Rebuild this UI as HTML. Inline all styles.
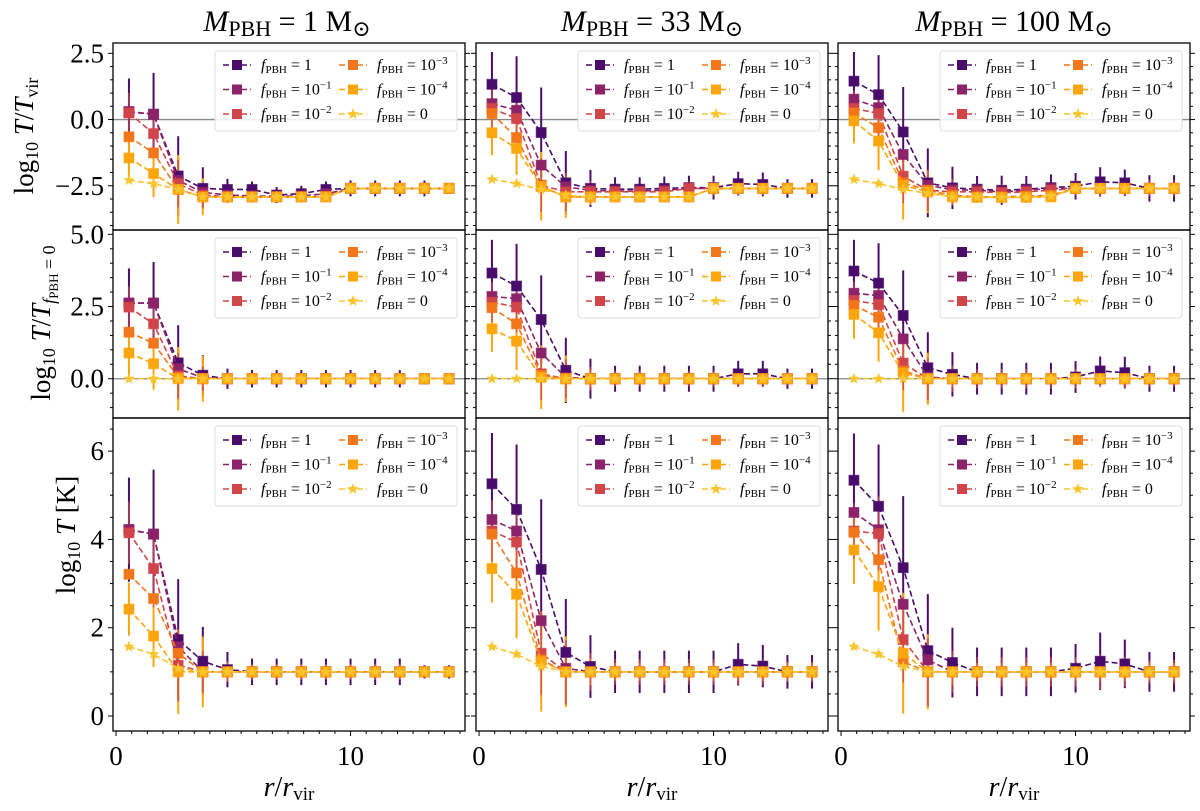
<!DOCTYPE html>
<html><head><meta charset="utf-8"><style>
html,body{margin:0;padding:0;background:#fff;}
svg{display:block;font-family:"Liberation Serif","DejaVu Serif",serif;}
</style></head><body>
<svg id="fig" width="1200" height="811" viewBox="0 0 1200 811" xmlns="http://www.w3.org/2000/svg"></svg>
<script>
// ---- data ----
const radii = [0.55,1.6,2.65,3.7,4.75,5.8,6.85,7.9,8.95,10.0,11.05,12.1,13.15,14.2];
const seriesLabels = ["1","10^-1","10^-2","10^-3","10^-4","0"];
const massLabels = ["1","33","100"];
const rowTicks0 = [2.5,0.0,-2.5];
const rowTicks1 = [5.0,2.5,0.0];
const rowTicks2 = [6,4,2,0];
const xTicks = [0,10];

// Row 1: log10 T/Tvir
const vir_m1_f1 = [0.29,0.2,-2.13,-2.6,-2.64,-2.64,-2.85,-2.8,-2.64,-2.6,-2.6,-2.6,-2.6,-2.6];
const vir_m1_f2 = [0.3,0.2,-2.3,-2.75,-2.85,-2.88,-2.9,-2.88,-2.8,-2.6,-2.6,-2.6,-2.6,-2.6];
const vir_m1_f3 = [0.25,-0.53,-2.42,-2.85,-2.92,-2.92,-2.92,-2.92,-2.9,-2.6,-2.6,-2.6,-2.6,-2.6];
const vir_m1_f4 = [-0.65,-1.26,-2.64,-2.92,-2.92,-2.92,-2.92,-2.92,-2.92,-2.6,-2.6,-2.6,-2.6,-2.6];
const vir_m1_f5 = [-1.45,-2.04,-2.64,-2.92,-2.92,-2.92,-2.92,-2.92,-2.92,-2.6,-2.6,-2.6,-2.6,-2.6];
const vir_m1_f0 = [-2.29,-2.42,-2.64,-2.92,-2.92,-2.92,-2.92,-2.92,-2.92,-2.6,-2.6,-2.6,-2.6,-2.6];
const vir_m1_err = [1.26,1.56,1.5,0.8,0.4,0.3,0.3,0.3,0.3,0.3,0.3,0.3,0.3,0.2];
const vir_m1_err5 = [0.7,0.9,1.3,0.7,0.2,0.15,0.15,0.15,0.15,0.15,0.15,0.15,0.1,0.1];

const vir_m33_f1 = [1.33,0.83,-0.49,-2.39,-2.6,-2.63,-2.63,-2.6,-2.57,-2.57,-2.42,-2.45,-2.6,-2.6];
const vir_m33_f2 = [0.6,0.35,-1.72,-2.54,-2.67,-2.7,-2.7,-2.67,-2.6,-2.6,-2.6,-2.6,-2.6,-2.6];
const vir_m33_f3 = [0.42,0.04,-2.48,-2.73,-2.73,-2.73,-2.73,-2.73,-2.6,-2.6,-2.6,-2.6,-2.6,-2.6];
const vir_m33_f4 = [0.23,-0.68,-2.52,-2.92,-2.92,-2.92,-2.92,-2.92,-2.92,-2.6,-2.6,-2.6,-2.6,-2.6];
const vir_m33_f5 = [-0.5,-1.09,-2.52,-2.92,-2.92,-2.92,-2.92,-2.92,-2.92,-2.6,-2.6,-2.6,-2.6,-2.6];
const vir_m33_f0 = [-2.26,-2.42,-2.64,-2.86,-2.92,-2.92,-2.92,-2.92,-2.92,-2.6,-2.6,-2.6,-2.6,-2.6];
const vir_m33_err = [1.22,1.56,1.7,1.2,0.7,0.45,0.45,0.45,0.45,0.45,0.45,0.45,0.35,0.35];
const vir_m33_err5 = [0.85,1.0,1.3,0.8,0.3,0.2,0.2,0.2,0.2,0.2,0.2,0.2,0.2,0.2];

const vir_m100_f1 = [1.45,0.94,-0.47,-2.39,-2.58,-2.63,-2.67,-2.63,-2.57,-2.52,-2.35,-2.39,-2.6,-2.6];
const vir_m100_f2 = [0.77,0.45,-1.32,-2.48,-2.65,-2.67,-2.73,-2.67,-2.6,-2.6,-2.6,-2.6,-2.6,-2.6];
const vir_m100_f3 = [0.42,0.23,-2.14,-2.67,-2.73,-2.73,-2.76,-2.73,-2.67,-2.6,-2.6,-2.6,-2.6,-2.6];
const vir_m100_f4 = [0.25,-0.31,-2.39,-2.67,-2.86,-2.92,-2.92,-2.89,-2.86,-2.6,-2.6,-2.6,-2.6,-2.6];
const vir_m100_f5 = [-0.05,-0.81,-2.48,-2.73,-2.92,-2.94,-2.94,-2.94,-2.92,-2.6,-2.6,-2.6,-2.6,-2.6];
const vir_m100_f0 = [-2.26,-2.42,-2.64,-2.79,-2.92,-2.92,-2.94,-2.94,-2.89,-2.6,-2.6,-2.6,-2.6,-2.6];
const vir_m100_err = [1.1,1.49,1.7,1.3,0.8,0.5,0.55,0.5,0.5,0.5,0.55,0.5,0.5,0.5];
const vir_m100_err5 = [0.85,1.1,1.3,0.8,0.3,0.2,0.2,0.2,0.2,0.2,0.2,0.2,0.2,0.2];

// Row 2: log10 T/T_{fPBH=0}
const rel_m1_f1 = [2.62,2.62,0.55,0.12,0,0,0,0,0,0,0,0,0,0];
const rel_m1_f2 = [2.62,2.62,0.35,0.03,0,0,0,0,0,0,0,0,0,0];
const rel_m1_f3 = [2.48,1.9,0.1,0,0,0,0,0,0,0,0,0,0,0];
const rel_m1_f4 = [1.61,1.23,0.05,0,0,0,0,0,0,0,0,0,0,0];
const rel_m1_f5 = [0.89,0.52,0,0,0,0,0,0,0,0,0,0,0,0];
const rel_m1_f0 = [0,0,0,0,0,0,0,0,0,0,0,0,0,0];
const rel_m1_err = [1.2,1.42,1.3,0.7,0.35,0.3,0.3,0.3,0.3,0.3,0.3,0.3,0.2,0.15];
const rel_m1_err5 = [0.8,0.9,1.1,0.8,0.2,0.15,0.15,0.15,0.15,0.15,0.15,0.15,0.1,0.1];

const rel_m33_f1 = [3.66,3.21,2.05,0.29,0,0,0,0,0,0,0.17,0.17,0,0];
const rel_m33_f2 = [2.85,2.77,0.89,0.05,0,0,0,0,0,0,0,0,0,0];
const rel_m33_f3 = [2.65,2.48,0.17,0,0,0,0,0,0,0,0,0,0,0];
const rel_m33_f4 = [2.46,1.9,0.12,0,0,0,0,0,0,0,0,0,0,0];
const rel_m33_f5 = [1.73,1.3,0.05,0,0,0,0,0,0,0,0,0,0,0];
const rel_m33_f0 = [0,0,0,0,0,0,0,0,0,0,0,0,0,0];
const rel_m33_err = [1.15,1.46,1.53,1.13,0.69,0.45,0.45,0.45,0.45,0.45,0.45,0.45,0.35,0.35];
const rel_m33_err5 = [0.8,1.0,1.1,0.8,0.3,0.2,0.2,0.2,0.2,0.2,0.2,0.2,0.2,0.2];

const rel_m100_f1 = [3.73,3.31,2.19,0.38,0.15,0,0,0,0,0.06,0.27,0.21,0,0];
const rel_m100_f2 = [2.96,2.88,1.38,0.06,0,0,0,0,0,0,0,0,0,0];
const rel_m100_f3 = [2.71,2.57,0.54,0,0,0,0,0,0,0,0,0,0,0];
const rel_m100_f4 = [2.54,2.13,0.27,0,0,0,0,0,0,0,0,0,0,0];
const rel_m100_f5 = [2.23,1.59,0.2,0,0,0,0,0,0,0,0,0,0,0];
const rel_m100_f0 = [0,0,0,0,0,0,0,0,0,0,0,0,0,0];
const rel_m100_err = [1.08,1.38,1.56,1.23,0.77,0.55,0.55,0.55,0.55,0.55,0.5,0.55,0.45,0.45];
const rel_m100_err5 = [0.85,1.0,1.35,0.9,0.3,0.2,0.2,0.2,0.2,0.2,0.2,0.2,0.2,0.2];

// Row 3: log10 T [K]
const abs_m1_f1 = [4.22,4.12,1.73,1.24,1.05,1,1,1,1,1,1,1,1,1];
const abs_m1_f2 = [4.22,4.12,1.57,1.0,1,1,1,1,1,1,1,1,1,1];
const abs_m1_f3 = [4.15,3.34,1.15,1.0,1,1,1,1,1,1,1,1,1,1];
const abs_m1_f4 = [3.21,2.66,1.42,1.0,1,1,1,1,1,1,1,1,1,1];
const abs_m1_f5 = [2.42,1.81,1.0,1.0,1,1,1,1,1,1,1,1,1,1];
const abs_m1_f0 = [1.57,1.4,1.08,1.0,1,1,1,1,1,1,1,1,1,1];
const abs_m1_err = [1.18,1.46,1.37,0.78,0.4,0.3,0.3,0.3,0.3,0.3,0.3,0.3,0.15,0.15];
const abs_m1_err5 = [0.6,0.7,0.95,0.8,0.2,0.15,0.15,0.15,0.15,0.15,0.15,0.15,0.1,0.1];

const abs_m33_f1 = [5.26,4.68,3.32,1.44,1.12,1,1,1,1,1,1.17,1.13,1,1];
const abs_m33_f2 = [4.45,4.19,2.16,1.08,1,1,1,1,1,1,1,1,1,1];
const abs_m33_f3 = [4.19,3.94,1.42,1.0,1,1,1,1,1,1,1,1,1,1];
const abs_m33_f4 = [4.12,3.24,1.27,1.0,1,1,1,1,1,1,1,1,1,1];
const abs_m33_f5 = [3.34,2.76,1.23,1.0,1,1,1,1,1,1,1,1,1,1];
const abs_m33_f0 = [1.57,1.4,1.12,1.0,1,1,1,1,1,1,1,1,1,1];
const abs_m33_err = [1.15,1.47,1.59,1.21,0.71,0.48,0.48,0.48,0.48,0.48,0.48,0.48,0.38,0.38];
const abs_m33_err5 = [0.77,1.0,1.13,0.8,0.3,0.2,0.2,0.2,0.2,0.2,0.2,0.2,0.2,0.2];

const abs_m100_f1 = [5.34,4.75,3.36,1.48,1.21,1,1,1,1,1.08,1.24,1.18,1,1];
const abs_m100_f2 = [4.61,4.22,2.53,1.27,1,1,1,1,1,1,1,1,1,1];
const abs_m100_f3 = [4.19,4.13,1.73,1.0,1,1,1,1,1,1,1,1,1,1];
const abs_m100_f4 = [4.16,3.54,1.23,1.0,1,1,1,1,1,1,1,1,1,1];
const abs_m100_f5 = [3.76,2.93,1.42,1.0,1,1,1,1,1,1,1,1,1,1];
const abs_m100_f0 = [1.57,1.4,1.12,1.0,1,1,1,1,1,1,1,1,1,1];
const abs_m100_err = [1.06,1.4,1.62,1.28,0.79,0.55,0.55,0.55,0.55,0.55,0.65,0.55,0.45,0.45];
const abs_m100_err5 = [0.77,1.0,1.37,0.85,0.3,0.2,0.2,0.2,0.2,0.2,0.2,0.2,0.2,0.2];

const panelData = [
  [[vir_m1_f1,vir_m1_f2,vir_m1_f3,vir_m1_f4,vir_m1_f5,vir_m1_f0,vir_m1_err,vir_m1_err5],
   [vir_m33_f1,vir_m33_f2,vir_m33_f3,vir_m33_f4,vir_m33_f5,vir_m33_f0,vir_m33_err,vir_m33_err5],
   [vir_m100_f1,vir_m100_f2,vir_m100_f3,vir_m100_f4,vir_m100_f5,vir_m100_f0,vir_m100_err,vir_m100_err5]],
  [[rel_m1_f1,rel_m1_f2,rel_m1_f3,rel_m1_f4,rel_m1_f5,rel_m1_f0,rel_m1_err,rel_m1_err5],
   [rel_m33_f1,rel_m33_f2,rel_m33_f3,rel_m33_f4,rel_m33_f5,rel_m33_f0,rel_m33_err,rel_m33_err5],
   [rel_m100_f1,rel_m100_f2,rel_m100_f3,rel_m100_f4,rel_m100_f5,rel_m100_f0,rel_m100_err,rel_m100_err5]],
  [[abs_m1_f1,abs_m1_f2,abs_m1_f3,abs_m1_f4,abs_m1_f5,abs_m1_f0,abs_m1_err,abs_m1_err5],
   [abs_m33_f1,abs_m33_f2,abs_m33_f3,abs_m33_f4,abs_m33_f5,abs_m33_f0,abs_m33_err,abs_m33_err5],
   [abs_m100_f1,abs_m100_f2,abs_m100_f3,abs_m100_f4,abs_m100_f5,abs_m100_f0,abs_m100_err,abs_m100_err5]]
];

// ---- layout ----
const NS = "http://www.w3.org/2000/svg";
const svg = document.getElementById('fig');
const colors = ["#4a0c6b","#8c2369","#d0454a","#f2761a","#fca50c","#f9c52e"];
const colLeft = [113,476,838];
const panelW = 352;
const rowTop = [43,230,418];
const rowBot = [230,418,731];
const rowYMax = [2.89,5.15,6.75];
const rowYMin = [-4.17,-1.36,-0.34];
const XMIN = -0.13, XMAX = 14.88;
const rowTickArr = [rowTicks0,rowTicks1,rowTicks2];

function mk(tag, attrs, parent){
  const e = document.createElementNS(NS, tag);
  for (const k in attrs) e.setAttribute(k, attrs[k]);
  (parent||svg).appendChild(e);
  return e;
}
function xS(c,v){ return colLeft[c] + (v - XMIN)/(XMAX-XMIN)*panelW; }
function yS(r,v){ return rowTop[r] + (rowYMax[r]-v)/(rowYMax[r]-rowYMin[r])*(rowBot[r]-rowTop[r]); }
function fmt(r,v){ const s = r===2 ? String(v) : v.toFixed(1); return s.replace('-','\u2212'); }

function starPath(cx,cy,R){
  let d='';
  for(let i=0;i<10;i++){
    const rr = i%2===0 ? R : R*0.42;
    const a = -Math.PI/2 + i*Math.PI/5;
    d += (i===0?'M':'L') + (cx+rr*Math.cos(a)).toFixed(2)+','+(cy+rr*Math.sin(a)).toFixed(2);
  }
  return d+'Z';
}

function fLabel(parent, x, y, val){
  const t = mk('text',{x:x,y:y,'font-size':16,fill:'#000'},parent);
  const f = mk('tspan',{'font-style':'italic'},t); f.textContent='f';
  const s = mk('tspan',{'font-size':11,dy:3},t); s.textContent='PBH';
  if (val.startsWith('10^')) {
    const e = mk('tspan',{dy:-3},t); e.textContent=' = 10';
    const p = mk('tspan',{'font-size':11,dy:-6},t); p.textContent=val.slice(3).replace('-','\u2212');
  } else {
    const e = mk('tspan',{dy:-3},t); e.textContent=' = '+val;
  }
}

for (let r=0;r<3;r++){
  for (let c=0;c<3;c++){
    const g = mk('g',{});
    
    
    const L=colLeft[c], T=rowTop[r], B=rowBot[r], R=L+panelW;
    const clipId='clip'+r+c;
    const cp = mk('clipPath',{id:clipId},g);
    mk('rect',{x:L,y:T,width:panelW,height:B-T},cp);
    if (r<2){
      const zl = mk('line',{x1:L,x2:R,y1:yS(r,0),y2:yS(r,0),stroke:'#888',"stroke-width":1.3},g);
      
      
    }
    const data = panelData[r][c];
    const plot = mk('g',{'clip-path':'url(#'+clipId+')'},g);
    const errSets = [[0,6],[4,7]];
    errSets.forEach(([si,ei])=>{
      radii.forEach((xv,i)=>{
        const v=data[si][i], e=data[ei][i];
        const eb = mk('line',{x1:xS(c,xv),x2:xS(c,xv),y1:yS(r,v-e),y2:yS(r,v+e),stroke:colors[si],'stroke-width':2},plot);
        
        
      });
    });
    radii.forEach((xv,i)=>{
      const v=data[2][i], e=data[6][i]*0.6;
      const eb = mk('line',{x1:xS(c,xv),x2:xS(c,xv),y1:yS(r,v-e),y2:yS(r,v+e),stroke:colors[2],'stroke-width':1.6,'stroke-opacity':0.8},plot);
      
      
    });
    for (let s=0;s<6;s++){
      const sg = mk('g',{},plot);
      
      
      const pts = radii.map((xv,i)=>xS(c,xv).toFixed(2)+','+yS(r,data[s][i]).toFixed(2)).join(' ');
      mk('polyline',{points:pts,fill:'none',stroke:colors[s],'stroke-width':1.6,'stroke-dasharray':'6,3'},sg);
      radii.forEach((xv,i)=>{
        const px=xS(c,xv), py=yS(r,data[s][i]);
        let m;
        if (s<5) m = mk('rect',{x:px-5,y:py-5,width:10,height:10,fill:colors[s],stroke:colors[s],'stroke-opacity':0.6},sg);
        else m = mk('path',{d:starPath(px,py,6),fill:colors[s]},sg);
        
        
      });
    }
    const fr = mk('rect',{x:L,y:T,width:panelW,height:B-T,fill:'none',stroke:'#000','stroke-width':1.3},g);
    
    
    const yt = rowTickArr[r];
    const step = 0.5;
    for (let v=Math.ceil(rowYMin[r]/step)*step; v<=rowYMax[r]; v+=step){
      const yy=yS(r,v);
      const major = yt.some(t=>Math.abs(t-v)<1e-6);
      mk('line',{x1:L,x2:L-(major?5:3),y1:yy,y2:yy,stroke:'#000','stroke-width':1},g);
      mk('line',{x1:R,x2:R+(major?5:3),y1:yy,y2:yy,stroke:'#000','stroke-width':1},g);
    }
    if (c===0){
      yt.forEach(v=>{
        const tl = mk('text',{x:L-9,y:yS(r,v)+9,'text-anchor':'end','font-size':27},g);
        tl.textContent = fmt(r,v);
        
        
      });
    }
    if (r===2){
      for (let k=0;k<=22;k++){
        const v = k*(2/3);
        if (v>XMAX) break;
        const xx=xS(c,v);
        const major = xTicks.some(t=>Math.abs(t-v)<1e-6);
        mk('line',{x1:xx,x2:xx,y1:B,y2:B+(major?5:3),stroke:'#000','stroke-width':1},g);
      }
      xTicks.forEach(v=>{
        const tl = mk('text',{x:xS(c,v),y:765,'text-anchor':'middle','font-size':27},g);
        tl.textContent=String(v);
        
        
      });
      const xl = mk('text',{x:L+176,y:796,'text-anchor':'middle','font-size':28},g);
      
      
      const a=mk('tspan',{'font-style':'italic'},xl); a.textContent='r';
      const b=mk('tspan',{},xl); b.textContent='/';
      const d=mk('tspan',{'font-style':'italic'},xl); d.textContent='r';
      const e=mk('tspan',{'font-size':19,dy:4},xl); e.textContent='vir';
    }
    const lg = mk('g',{},g);
    
    
    mk('rect',{x:L+102,y:T+8,width:242,height:80,rx:3,fill:'#fff','fill-opacity':0.85,stroke:'#ddd'},lg);
    for (let s=0;s<6;s++){
      const col = s<3?0:1, row = s%3;
      const lx = L + (col===0?110:226), ly = T + 22 + row*24.5;
      const le = mk('g',{},lg);
      
      
      mk('line',{x1:lx,x2:lx+28,y1:ly,y2:ly,stroke:colors[s],'stroke-width':1.6,'stroke-dasharray':'6,3'},le);
      if (s<5) mk('rect',{x:lx+9,y:ly-5,width:10,height:10,fill:colors[s]},le);
      else mk('path',{d:starPath(lx+14,ly,6),fill:colors[s]},le);
      fLabel(le, lx+38, ly+5, seriesLabels[s]);
    }
  }
}
[287,652,1014].forEach((cx,c)=>{
  const t = mk('text',{x:cx,y:31,'text-anchor':'middle','font-size':30});
  
  
  const a=mk('tspan',{'font-style':'italic'},t); a.textContent='M';
  const b=mk('tspan',{'font-size':22,dy:5},t); b.textContent='PBH';
  const d=mk('tspan',{dy:-5},t); d.textContent=' = '+massLabels[c]+' M';
  const e=mk('tspan',{'font-size':22,dy:5},t); e.textContent='\u2299';
});
function ytitle(cx,cy,name,parts){
  const t = mk('text',{x:0,y:0,'text-anchor':'middle','font-size':27,transform:'translate('+cx+','+cy+') rotate(-90)'});
  
  
  parts.forEach(p=>{ const s=mk('tspan',p.a||{},t); s.textContent=p.t; });
}
ytitle(33,136,'y-axis-title-virial',[
  {t:'log'},{t:'10',a:{'font-size':18,dy:5}},{t:' T',a:{'font-style':'italic',dy:-5}},{t:'/'},{t:'T',a:{'font-style':'italic'}},{t:'vir',a:{'font-size':18,dy:5}}]);
ytitle(50,323,'y-axis-title-relative',[
  {t:'log'},{t:'10',a:{'font-size':18,dy:5}},{t:' T',a:{'font-style':'italic',dy:-5}},{t:'/'},{t:'T',a:{'font-style':'italic'}},{t:'f',a:{'font-size':18,'font-style':'italic',dy:5}},{t:'PBH',a:{'font-size':13,dy:3}},{t:' = 0',a:{'font-size':18,dy:-3}}]);
ytitle(75,535,'y-axis-title-temperature',[
  {t:'log'},{t:'10',a:{'font-size':18,dy:5}},{t:' T',a:{'font-style':'italic',dy:-5}},{t:' [K]'}]);
</script>
</body></html>
